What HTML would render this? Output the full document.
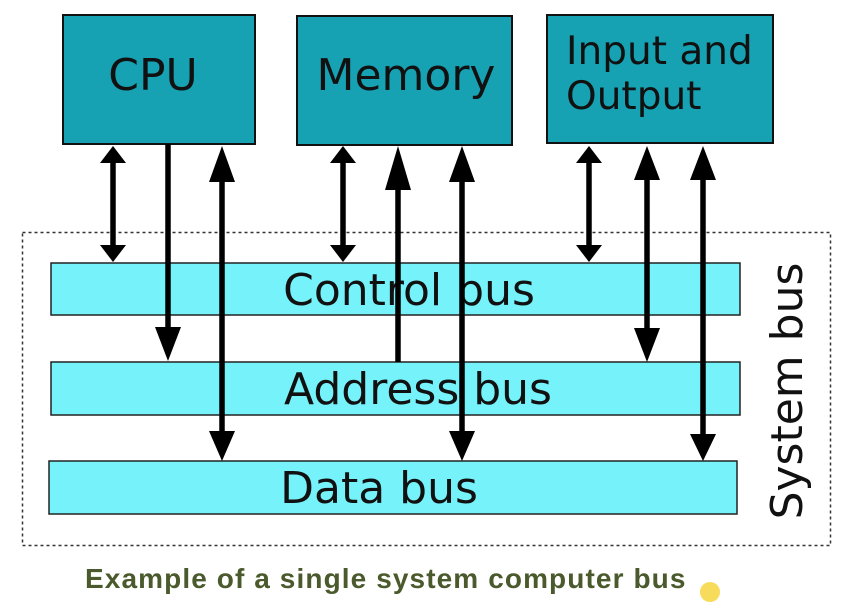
<!DOCTYPE html>
<html><head><style>
body{margin:0;background:#fff;width:860px;height:608px;overflow:hidden}
svg{display:block}
</style></head><body>
<svg width="860" height="608" xmlns="http://www.w3.org/2000/svg" font-family="DejaVu Sans, Liberation Sans, sans-serif">
<rect x="0" y="0" width="860" height="608" fill="#fff"/>
<rect x="22.5" y="232.5" width="808" height="313" fill="none" stroke="#333" stroke-width="1.5" stroke-dasharray="3,3"/>
<g fill="#16a2b3" stroke="#111" stroke-width="2">
<rect x="63" y="15" width="192" height="129"/>
<rect x="297" y="16" width="215" height="129"/>
<rect x="547" y="15" width="226" height="128"/>
</g>
<g fill="#111" font-size="44">
<text x="153" y="90" text-anchor="middle">CPU</text>
<text x="406" y="90" text-anchor="middle">Memory</text>
<text x="566" y="64" font-size="39">Input and</text>
<text x="566" y="109" font-size="39">Output</text>
</g>
<g fill="#76f2fa" stroke="#222" stroke-width="1.5">
<rect x="51" y="263" width="689" height="52"/>
<rect x="51" y="362" width="689" height="53"/>
<rect x="49" y="461" width="688" height="53"/>
</g>
<g fill="#111" font-size="44" text-anchor="middle">
<text x="409" y="305">Control bus</text>
<text x="418" y="404">Address bus</text>
<text x="379" y="503">Data bus</text>
</g>
<text transform="translate(802,391) rotate(-90)" text-anchor="middle" font-size="44" fill="#111">System bus</text>
<g stroke="#000" stroke-width="5.5">
<line x1="113" y1="155" x2="113" y2="252"/>
<line x1="343" y1="155" x2="343" y2="252"/>
<line x1="589" y1="155" x2="589" y2="252"/>
<line x1="168" y1="144" x2="168" y2="335"/>
<line x1="222" y1="175" x2="222" y2="440"/>
<line x1="398" y1="175" x2="398" y2="362"/>
<line x1="462" y1="175" x2="462" y2="440"/>
<line x1="647" y1="175" x2="647" y2="340"/>
<line x1="703" y1="175" x2="703" y2="440"/>
</g>
<g fill="#000">
<polygon points="113,146 100,163 126,163"/><polygon points="113,262 100,245 126,245"/>
<polygon points="343,146 330,163 356,163"/><polygon points="343,262 330,245 356,245"/>
<polygon points="589,146 576,163 602,163"/><polygon points="589,262 576,245 602,245"/>
<polygon points="168,361 155,327 181,327"/>
<polygon points="222,146 209,182 235,182"/><polygon points="222,461 209,431 235,431"/>
<polygon points="398,146 385,190 411,190"/>
<polygon points="462,146 449,182 475,182"/><polygon points="462,461 449,431 475,431"/>
<polygon points="647,146 634,180 660,180"/><polygon points="647,362 634,328 660,328"/>
<polygon points="703,146 690,180 716,180"/><polygon points="703,461 690,434 716,434"/>
</g>
<text x="85" y="588" font-family="Liberation Sans, sans-serif" font-size="28" font-weight="bold" letter-spacing="1.1" fill="#4a5a2c">Example of a single system computer bus</text>
<circle cx="710" cy="592" r="10" fill="#f6d84a" opacity="0.9"/>
</svg>
</body></html>
